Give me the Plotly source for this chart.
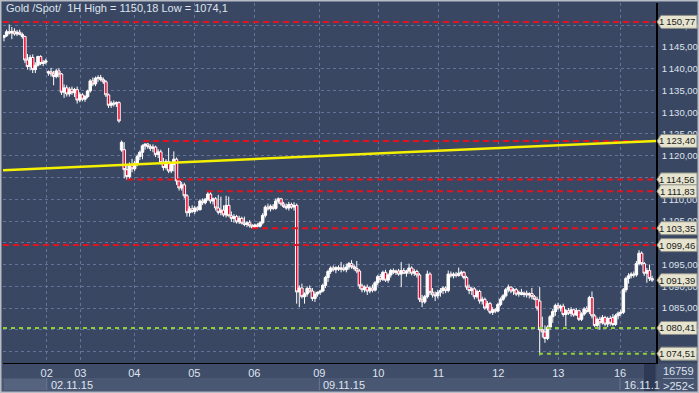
import plotly.graph_objects as go

# ---------------- data ----------------
open_ = [1147.2,1147.6,1148.5,1148.2,1148.6,1148.0,1148.4,1147.9,1147.4,1142.0,
         1140.5,1142.6,1139.8,1140.8,1142.8,1141.2,1141.5,1139.0,1139.3,1138.8,
         1138.2,1139.5,1138.8,1134.6,1135.6,1134.2,1135.3,1134.5,1135.2,1132.8,
         1134.0,1133.0,1133.6,1134.9,1137.2,1136.5,1137.8,1138.0,1137.5,1137.0,
         1134.0,1131.6,1132.1,1131.9,1132.2,1121.3,1121.4,1116.8,1115.2,1117.8,
         1117.0,1118.3,1119.8,1120.8,1122.3,1122.7,1122.1,1121.7,1122.0,1120.3,
         1120.9,1118.4,1117.3,1118.7,1116.5,1118.0,1119.2,1114.2,1112.6,1113.3,
         1110.8,1106.9,1107.8,1107.2,1108.0,1107.6,1109.6,1109.2,1110.0,1111.2,
         1109.6,1110.1,1108.0,1107.0,1107.5,1106.4,1108.6,1106.2,1105.6,1106.0,
         1104.8,1105.6,1104.5,1104.2,1104.6,1103.9,1103.5,1104.1,1103.8,1104.6,
         1106.3,1108.2,1107.8,1108.4,1107.9,1109.6,1110.1,1108.9,1108.3,1108.0,
         1108.8,1108.2,1108.6,1088.7,1089.6,1087.6,1088.2,1089.5,1088.9,1087.2,
         1088.2,1088.6,1088.9,1090.2,1092.0,1093.4,1094.2,1093.8,1094.3,1093.9,
         1094.2,1093.8,1094.4,1095.2,1094.5,1094.1,1093.5,1090.1,1089.2,1089.8,
         1088.9,1089.6,1089.1,1090.8,1092.2,1091.6,1093.2,1091.4,1092.6,1093.6,
         1093.2,1093.5,1092.8,1093.6,1093.0,1093.5,1094.2,1093.0,1093.4,1092.6,
         1087.0,1086.4,1087.6,1092.8,1088.6,1088.0,1087.8,1088.6,1089.0,1089.6,
         1089.0,1092.8,1092.4,1092.8,1092.5,1093.0,1093.2,1092.0,1089.8,1089.0,
         1089.4,1087.6,1088.8,1086.6,1087.0,1085.0,1086.0,1084.0,1084.6,1084.3,
         1085.8,1087.0,1087.8,1089.2,1089.8,1088.9,1089.2,1088.2,1088.6,1088.1,
         1088.4,1088.0,1088.3,1087.6,1087.0,1086.6,1080.0,1079.5,1078.0,1080.6,
         1083.0,1084.2,1085.6,1085.0,1085.4,1083.5,1084.4,1083.8,1084.6,1083.4,
         1084.4,1082.4,1083.6,1084.8,1084.2,1087.4,1083.2,1081.0,1082.4,1081.6,
         1082.8,1081.3,1082.6,1082.8,1081.2,1083.2,1083.8,1084.0,1089.2,1091.8,
         1092.4,1092.8,1092.6,1095.2,1097.6,1095.2,1093.0,1093.6,1091.8]
high = [1147.8,1149.0,1150.18,1149.6,1149.3,1148.9,1149.0,1148.3,1147.6,1143.4,
        1143.2,1143.3,1141.5,1143.0,1143.1,1142.0,1142.3,1139.6,1140.2,1139.5,
        1140.0,1140.1,1139.0,1136.4,1136.2,1135.8,1135.9,1135.6,1135.9,1134.6,
        1134.4,1134.0,1135.2,1137.6,1138.0,1138.2,1138.5,1138.6,1138.0,1137.4,
        1134.3,1132.6,1132.7,1132.5,1132.5,1123.5,1123.1,1118.0,1118.5,1119.3,
        1118.8,1120.3,1121.2,1122.6,1122.8,1122.9,1122.6,1122.6,1122.3,1121.5,
        1121.4,1119.5,1119.2,1121.8,1118.6,1121.0,1119.6,1114.6,1114.0,1113.8,
        1111.2,1108.4,1108.6,1108.5,1108.4,1110.0,1110.2,1110.3,1111.8,1111.6,
        1110.4,1110.5,1111.0,1110.6,1108.6,1110.8,1110.6,1107.2,1106.6,1106.4,
        1106.2,1106.0,1106.0,1105.0,1105.2,1104.3,1104.4,1104.5,1105.0,1106.8,
        1108.6,1109.0,1108.8,1108.9,1110.2,1110.4,1110.3,1109.4,1109.0,1109.4,
        1109.2,1109.3,1109.0,1090.2,1090.6,1088.6,1090.0,1090.2,1089.6,1088.8,
        1088.8,1089.2,1090.6,1092.4,1093.8,1094.6,1094.8,1094.6,1094.8,1095.6,
        1095.0,1095.2,1095.6,1096.0,1095.0,1095.8,1093.9,1090.6,1090.2,1090.4,
        1090.0,1090.4,1091.2,1092.6,1092.8,1093.6,1093.8,1093.0,1094.0,1094.1,
        1093.8,1094.0,1095.6,1094.2,1093.8,1095.2,1094.6,1094.0,1093.8,1093.0,
        1088.0,1088.0,1093.6,1093.2,1089.6,1088.8,1089.2,1089.6,1090.0,1090.0,
        1093.6,1093.4,1093.2,1093.3,1094.3,1093.6,1093.5,1092.4,1090.4,1089.8,
        1089.8,1089.2,1089.2,1087.6,1087.4,1086.6,1086.4,1085.2,1085.0,1086.2,
        1087.4,1088.2,1089.6,1090.4,1090.0,1089.6,1089.6,1089.0,1089.4,1088.8,
        1089.0,1088.6,1089.6,1088.0,1087.6,1089.8,1083.0,1081.0,1081.0,1083.4,
        1084.8,1086.0,1086.2,1085.8,1086.0,1084.8,1085.0,1085.2,1084.8,1085.0,
        1084.6,1084.0,1085.2,1085.4,1087.8,1088.8,1083.6,1082.8,1083.0,1083.4,
        1083.2,1083.0,1083.2,1083.6,1083.6,1084.2,1084.6,1089.6,1092.2,1093.0,
        1093.2,1093.4,1095.8,1098.3,1098.0,1095.6,1094.2,1095.0,1092.4]
low = [1146.3,1147.3,1147.9,1146.8,1147.6,1147.5,1147.7,1146.9,1141.3,1139.8,
       1139.6,1139.0,1139.0,1140.5,1140.8,1140.6,1141.0,1138.4,1138.2,1136.2,
       1137.8,1138.0,1134.0,1133.3,1133.6,1133.6,1134.0,1133.5,1132.0,1132.3,
       1132.5,1132.4,1133.2,1134.5,1136.0,1136.0,1137.0,1137.1,1136.5,1133.5,
       1131.0,1131.0,1131.3,1131.2,1127.6,1120.9,1114.8,1114.5,1114.6,1116.2,
       1116.5,1117.6,1119.0,1119.2,1121.4,1121.6,1121.1,1120.8,1119.7,1119.5,
       1118.0,1116.6,1116.8,1116.0,1116.0,1116.4,1113.3,1112.0,1112.0,1110.2,
       1106.0,1106.0,1106.8,1106.6,1107.2,1107.4,1108.7,1108.8,1109.6,1109.0,
       1108.8,1107.4,1106.5,1106.3,1106.0,1105.8,1106.0,1104.8,1104.6,1104.4,
       1104.3,1104.2,1103.8,1103.6,1103.5,1103.2,1103.35,1103.4,1103.5,1104.2,
       1105.8,1107.4,1107.2,1107.5,1107.6,1109.0,1108.5,1108.0,1107.6,1107.4,
       1107.8,1107.4,1086.0,1085.2,1087.2,1086.0,1087.6,1088.5,1086.6,1086.4,
       1087.6,1088.0,1088.6,1089.6,1091.0,1092.8,1093.4,1093.0,1093.5,1093.2,
       1093.4,1093.2,1093.8,1094.0,1093.6,1093.0,1089.4,1088.6,1088.6,1088.0,
       1088.4,1088.6,1088.8,1090.2,1091.0,1091.2,1091.0,1090.8,1092.0,1092.8,
       1092.6,1092.4,1089.8,1092.8,1092.2,1092.8,1092.5,1092.4,1092.0,1086.4,
       1085.2,1086.0,1087.2,1088.0,1087.4,1086.6,1087.2,1087.6,1088.2,1088.4,
       1088.6,1092.0,1091.8,1092.0,1092.2,1092.3,1091.6,1089.2,1088.2,1088.0,
       1087.0,1087.2,1086.0,1085.8,1084.6,1084.4,1083.6,1083.4,1083.8,1084.0,
       1085.4,1086.6,1087.4,1088.6,1088.4,1088.0,1087.8,1087.6,1087.9,1087.5,
       1087.4,1087.2,1087.0,1086.8,1084.4,1074.1,1078.2,1077.0,1077.6,1080.0,
       1081.6,1083.2,1084.6,1084.2,1083.0,1080.8,1083.4,1083.0,1083.0,1083.2,
       1082.0,1082.0,1083.2,1083.8,1083.6,1082.6,1080.6,1080.5,1080.0,1081.2,
       1080.8,1080.6,1080.9,1080.8,1080.9,1082.4,1083.2,1083.6,1088.6,1090.6,
       1091.8,1092.0,1092.2,1094.8,1094.8,1092.4,1090.8,1091.2,1091.0]
close = [1147.6,1148.5,1148.2,1148.6,1148.0,1148.4,1147.9,1147.4,1142.0,1140.5,
         1142.6,1139.8,1140.8,1142.8,1141.2,1141.5,1141.8,1139.3,1138.8,1138.2,
         1139.5,1138.8,1134.6,1135.6,1134.2,1135.3,1134.5,1135.2,1132.8,1134.0,
         1133.0,1133.6,1134.9,1137.2,1136.5,1137.8,1138.0,1137.5,1137.0,1134.0,
         1131.6,1132.1,1131.9,1132.2,1128.0,1123.1,1116.8,1115.2,1117.8,1117.0,
         1118.3,1119.8,1120.8,1122.3,1122.7,1122.1,1121.7,1122.0,1120.3,1120.9,
         1118.4,1117.3,1118.7,1116.5,1118.0,1119.2,1114.2,1112.6,1113.3,1110.8,
         1106.9,1107.8,1107.2,1108.0,1107.6,1109.6,1109.2,1110.0,1111.2,1109.6,
         1110.1,1108.0,1107.0,1107.5,1106.4,1108.6,1106.2,1105.6,1106.0,1104.8,
         1105.6,1104.5,1104.2,1104.6,1103.9,1103.5,1104.1,1103.8,1104.6,1106.3,
         1108.2,1107.8,1108.4,1107.9,1109.6,1110.1,1108.9,1108.3,1108.0,1108.8,
         1108.2,1108.6,1088.7,1089.6,1087.6,1088.2,1089.5,1088.9,1087.2,1088.2,
         1088.6,1088.9,1090.2,1092.0,1093.4,1094.2,1093.8,1094.3,1093.9,1094.2,
         1093.8,1094.4,1095.2,1094.5,1094.1,1093.5,1090.1,1089.2,1089.8,1088.9,
         1089.6,1089.1,1090.8,1092.2,1091.6,1093.2,1091.4,1092.6,1093.6,1093.2,
         1093.5,1092.8,1093.6,1093.0,1093.5,1094.2,1093.0,1093.4,1092.6,1087.0,
         1086.4,1087.6,1092.8,1088.6,1088.0,1087.8,1088.6,1089.0,1089.6,1089.0,
         1092.8,1092.4,1092.8,1092.5,1093.0,1093.2,1092.0,1089.8,1089.0,1089.4,
         1087.6,1088.8,1086.6,1087.0,1085.0,1086.0,1084.0,1084.6,1084.3,1085.8,
         1087.0,1087.8,1089.2,1089.8,1088.9,1089.2,1088.2,1088.6,1088.1,1088.4,
         1088.0,1088.3,1087.6,1087.0,1085.0,1080.0,1079.5,1078.0,1080.6,1083.0,
         1084.2,1085.6,1085.0,1085.4,1083.5,1084.4,1083.8,1084.6,1083.4,1084.4,
         1082.4,1083.6,1084.8,1084.2,1087.4,1083.2,1081.0,1082.4,1081.6,1082.8,
         1081.3,1082.6,1081.5,1081.2,1083.2,1083.8,1084.0,1089.2,1091.8,1092.4,
         1092.8,1092.6,1095.2,1097.6,1095.2,1093.0,1093.6,1091.8,1091.39]

day_labels = ["02", "03", "04", "05", "06", "09", "10", "11", "12", "13", "16"]
day_pos = [16.34, 29.2, 49.87, 72.83, 95.79, 120.67, 143.24, 166.21, 189.17, 212.13, 235.74]
week_labels = ["02.11.15", "09.11.15", "16.11.1"]
week_pos = [16.34, 120.67, 235.74]

red_levels = [1150.77, 1123.40, 1114.56, 1111.83, 1103.35, 1099.46]
red_from = [None, 53.2, 47.1, 77.7, 94.9, None]
green_levels = [1080.41, 1074.51]
green_from = [None, 204.7]
trend_ends = [1116.65, 1123.40]
last_price = 1091.39
price_ticks = [1075, 1080, 1085, 1090, 1095, 1100, 1105, 1110, 1115, 1120,
               1125, 1130, 1135, 1140, 1145, 1150]
title_text = "Gold /Spot/  1H High = 1150,18 Low = 1074,1"
bars_total = "16759"
bars_visible = ">252<"

# ---------------- layout helpers ----------------
W, H = 699, 393
ML, MR, MT, MB = 3, 43, 3, 30
PW, PH = W - ML - MR, H - MT - MB
XMIN, XMAX = -0.38, 249.5
YMIN, YMAX = 1072.36, 1155.11

def px(X):
    return (X - ML) / PW

def py(Y):
    return (H - MB - Y) / PH

def fmt(v):
    s = f"{v:,.2f}"
    return s.replace(",", "\u2009").replace(".", ",")

FONT = "Liberation Sans, Arial, sans-serif"
PLOT_BG = "#3a4763"
TXT = "#dfe4ee"

x = list(range(len(close)))

fig = go.Figure(go.Candlestick(
    x=x, open=open_, high=high, low=low, close=close,
    increasing=dict(line=dict(color="white", width=1), fillcolor="white"),
    decreasing=dict(line=dict(color="white", width=1), fillcolor="#e8002a"),
    whiskerwidth=0, hoverinfo="skip", showlegend=False,
))

shapes = []
ann = []

# bottom strip
shapes.append(dict(type="rect", xref="paper", yref="paper", layer="below",
                   x0=px(0), x1=px(W), y0=py(393), y1=py(363),
                   fillcolor="#404d69", line=dict(width=0)))
shapes.append(dict(type="rect", xref="paper", yref="paper", layer="below",
                   x0=px(0), x1=px(656), y0=py(391), y1=py(378),
                   fillcolor="#4a5773", line=dict(width=0)))
shapes.append(dict(type="rect", xref="paper", yref="paper", layer="below",
                   x0=px(4), x1=px(46), y0=py(390), y1=py(379),
                   fillcolor="#56637e", line=dict(width=0)))
shapes.append(dict(type="rect", xref="paper", yref="paper", layer="below",
                   x0=px(657), x1=px(W), y0=py(393), y1=py(364),
                   fillcolor="#46536f", line=dict(width=0)))
for p in week_pos:
    shapes.append(dict(type="line", xref="x", yref="paper", layer="below",
                       x0=p, x1=p, y0=py(390), y1=py(378),
                       line=dict(color="#6b7894", width=1)))
shapes.append(dict(type="rect", xref="paper", yref="paper", layer="below",
                   x0=px(644), x1=px(655.5), y0=py(391), y1=py(364),
                   fillcolor="#2e3a55", line=dict(width=0)))
shapes.append(dict(type="line", xref="paper", yref="paper",
                   x0=px(663), x1=px(694), y0=py(378.5), y1=py(378.5),
                   line=dict(color="#8a95ab", width=1)))

# horizontal levels
for lv, st in zip(red_levels, red_from):
    shapes.append(dict(type="line", xref="x", yref="y", layer="above",
                       x0=XMIN if st is None else st, x1=XMAX, y0=lv, y1=lv,
                       line=dict(color="#e8101c", width=2, dash="6px,4px")))
for lv, st in zip(green_levels, green_from):
    shapes.append(dict(type="line", xref="x", yref="y", layer="above",
                       x0=XMIN if st is None else st, x1=XMAX, y0=lv, y1=lv,
                       line=dict(color="#8ccf3a", width=2, dash="4px,4px")))
shapes.append(dict(type="line", xref="x", yref="y", layer="above",
                   x0=XMIN, x1=XMAX, y0=trend_ends[0], y1=trend_ends[1],
                   line=dict(color="#f4f000", width=2.5)))

# price tags on the right
for lv in red_levels + [last_price] + green_levels:
    shapes.append(dict(type="path", xref="paper", yref="y",
                       xsizemode="pixel", ysizemode="pixel", xanchor=1, yanchor=lv,
                       path="M 1 0 L 5 -6.5 L 41 -6.5 L 41 6.5 L 5 6.5 Z",
                       fillcolor="#e6e4cf", line=dict(color="#8d8f86", width=1),
                       layer="above"))
    ann.append(dict(x=px(696), xref="paper", y=lv, yref="y", xanchor="right",
                    yanchor="middle", text=fmt(lv), showarrow=False, borderpad=0,
                    font=dict(family=FONT, size=9.5, color="#1b1b1b")))

# outer frame
shapes.append(dict(type="rect", xref="paper", yref="paper",
                   x0=px(0), x1=px(W), y0=py(H), y1=py(0),
                   line=dict(color="#b7bcc6", width=3), fillcolor="rgba(0,0,0,0)"))

# title
ann.append(dict(x=px(4), y=py(8), xref="paper", yref="paper", xanchor="left",
                yanchor="middle", text=title_text, showarrow=False,
                font=dict(family=FONT, size=11, color=TXT)))
# week labels
for lab, p in zip(week_labels, week_pos):
    ann.append(dict(x=p, y=py(384.5), xref="x", yref="paper", xanchor="left",
                    yanchor="middle", xshift=2, text=lab, showarrow=False,
                    font=dict(family=FONT, size=11, color=TXT)))
# bar counters
ann.append(dict(x=px(678), y=py(371), xref="paper", yref="paper", xanchor="center",
                yanchor="middle", text=bars_total, showarrow=False,
                font=dict(family=FONT, size=11, color=TXT)))
ann.append(dict(x=px(678), y=py(385.5), xref="paper", yref="paper", xanchor="center",
                yanchor="middle", text=bars_visible.replace("<", "&lt;").replace(">", "&gt;"),
                showarrow=False, font=dict(family=FONT, size=11, color=TXT)))

fig.update_layout(
    width=W, height=H,
    margin=dict(l=ML, r=MR, t=MT, b=MB, pad=0),
    paper_bgcolor=PLOT_BG, plot_bgcolor=PLOT_BG,
    showlegend=False, boxgap=0.05, boxgroupgap=0,
    shapes=shapes, annotations=ann,
    font=dict(family=FONT, size=11, color=TXT),
    xaxis=dict(range=[XMIN, XMAX], rangeslider=dict(visible=False), automargin=False,
               tickmode="array", tickvals=day_pos, ticktext=day_labels,
               showgrid=True, gridcolor="#64739a", griddash="dot", gridwidth=1,
               zeroline=False, showline=True, linecolor="black", linewidth=1,
               ticks="", tickfont=dict(family=FONT, size=11, color=TXT)),
    yaxis=dict(range=[YMIN, YMAX], side="right", automargin=False,
               tickmode="array", tickvals=price_ticks,
               ticktext=[fmt(v) for v in price_ticks],
               showgrid=True, gridcolor="#64739a", griddash="dot", gridwidth=1,
               zeroline=False, showline=True, linecolor="black", linewidth=1.5,
               ticks="", ticklabelstandoff=2,
               tickfont=dict(family=FONT, size=9.5, color=TXT)),
)

fig.write_html(
    "out.html",
    config={"displayModeBar": False},
    post_script="document.body.style.margin='0';document.body.style.overflow='hidden';",
)
